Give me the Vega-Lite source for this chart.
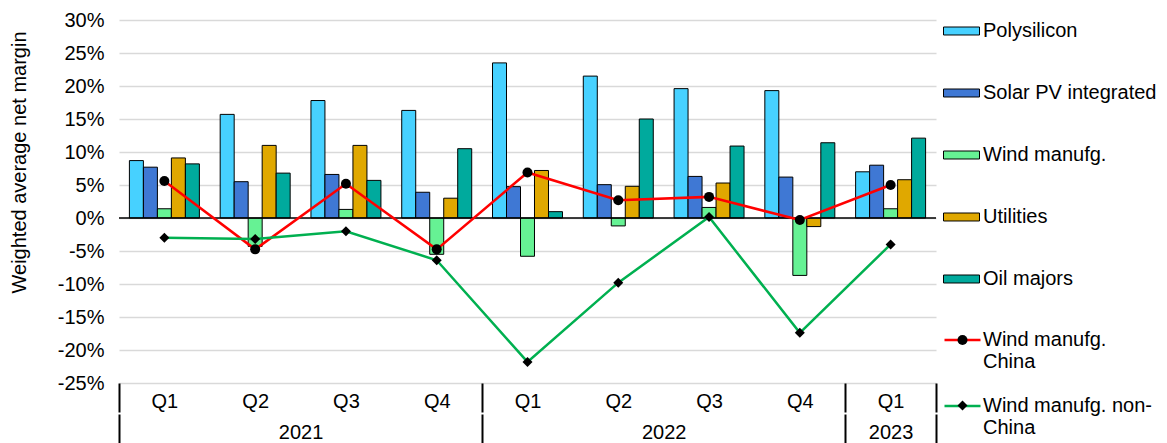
{
  "$schema": "https://vega.github.io/schema/vega-lite/v6.json",
  "width": 817,
  "height": 363,
  "autosize": {"type": "none"},
  "padding": {"left": 119, "top": 20, "right": 231, "bottom": 60},
  "background": "white",
  "config": {
    "view": {"stroke": null},
    "font": "Liberation Sans",
    "axis": {"labelColor": "black", "titleColor": "black", "labelFontSize": 20, "titleFontSize": 20, "titleFontWeight": "normal"},
    "legend": {"labelColor": "black", "labelFontSize": 20, "labelLimit": 300, "padding": 0, "title": null}
  },
  "datasets": {
    "bars": [
      {"period": "2021 Q1", "series": "Polysilicon", "value": 8.7},
      {"period": "2021 Q1", "series": "Solar PV integrated", "value": 7.7},
      {"period": "2021 Q1", "series": "Wind manufg.", "value": 1.4},
      {"period": "2021 Q1", "series": "Utilities", "value": 9.1},
      {"period": "2021 Q1", "series": "Oil majors", "value": 8.2},
      {"period": "2021 Q2", "series": "Polysilicon", "value": 15.7},
      {"period": "2021 Q2", "series": "Solar PV integrated", "value": 5.5},
      {"period": "2021 Q2", "series": "Wind manufg.", "value": -4.3},
      {"period": "2021 Q2", "series": "Utilities", "value": 11.0},
      {"period": "2021 Q2", "series": "Oil majors", "value": 6.8},
      {"period": "2021 Q3", "series": "Polysilicon", "value": 17.8},
      {"period": "2021 Q3", "series": "Solar PV integrated", "value": 6.6},
      {"period": "2021 Q3", "series": "Wind manufg.", "value": 1.3},
      {"period": "2021 Q3", "series": "Utilities", "value": 11.0},
      {"period": "2021 Q3", "series": "Oil majors", "value": 5.7},
      {"period": "2021 Q4", "series": "Polysilicon", "value": 16.3},
      {"period": "2021 Q4", "series": "Solar PV integrated", "value": 3.9},
      {"period": "2021 Q4", "series": "Wind manufg.", "value": -5.5},
      {"period": "2021 Q4", "series": "Utilities", "value": 3.0},
      {"period": "2021 Q4", "series": "Oil majors", "value": 10.5},
      {"period": "2022 Q1", "series": "Polysilicon", "value": 23.5},
      {"period": "2022 Q1", "series": "Solar PV integrated", "value": 4.75},
      {"period": "2022 Q1", "series": "Wind manufg.", "value": -5.8},
      {"period": "2022 Q1", "series": "Utilities", "value": 7.2},
      {"period": "2022 Q1", "series": "Oil majors", "value": 0.96},
      {"period": "2022 Q2", "series": "Polysilicon", "value": 21.5},
      {"period": "2022 Q2", "series": "Solar PV integrated", "value": 5.05},
      {"period": "2022 Q2", "series": "Wind manufg.", "value": -1.2},
      {"period": "2022 Q2", "series": "Utilities", "value": 4.8},
      {"period": "2022 Q2", "series": "Oil majors", "value": 15.0},
      {"period": "2022 Q3", "series": "Polysilicon", "value": 19.6},
      {"period": "2022 Q3", "series": "Solar PV integrated", "value": 6.3},
      {"period": "2022 Q3", "series": "Wind manufg.", "value": 1.6},
      {"period": "2022 Q3", "series": "Utilities", "value": 5.3},
      {"period": "2022 Q3", "series": "Oil majors", "value": 10.9},
      {"period": "2022 Q4", "series": "Polysilicon", "value": 19.3},
      {"period": "2022 Q4", "series": "Solar PV integrated", "value": 6.2},
      {"period": "2022 Q4", "series": "Wind manufg.", "value": -8.7},
      {"period": "2022 Q4", "series": "Utilities", "value": -1.3},
      {"period": "2022 Q4", "series": "Oil majors", "value": 11.4},
      {"period": "2023 Q1", "series": "Polysilicon", "value": 7.0},
      {"period": "2023 Q1", "series": "Solar PV integrated", "value": 8.0},
      {"period": "2023 Q1", "series": "Wind manufg.", "value": 1.4},
      {"period": "2023 Q1", "series": "Utilities", "value": 5.8},
      {"period": "2023 Q1", "series": "Oil majors", "value": 12.1}
    ],
    "lines": [
      {"period": "2021 Q1", "series": "Wind manufg. China", "value": 5.6},
      {"period": "2021 Q2", "series": "Wind manufg. China", "value": -4.75},
      {"period": "2021 Q3", "series": "Wind manufg. China", "value": 5.2},
      {"period": "2021 Q4", "series": "Wind manufg. China", "value": -4.75},
      {"period": "2022 Q1", "series": "Wind manufg. China", "value": 6.9},
      {"period": "2022 Q2", "series": "Wind manufg. China", "value": 2.7},
      {"period": "2022 Q3", "series": "Wind manufg. China", "value": 3.2},
      {"period": "2022 Q4", "series": "Wind manufg. China", "value": -0.3},
      {"period": "2023 Q1", "series": "Wind manufg. China", "value": 5.0},
      {"period": "2021 Q1", "series": "Wind manufg. non-China", "value": -3.0},
      {"period": "2021 Q2", "series": "Wind manufg. non-China", "value": -3.2},
      {"period": "2021 Q3", "series": "Wind manufg. non-China", "value": -2.0},
      {"period": "2021 Q4", "series": "Wind manufg. non-China", "value": -6.4},
      {"period": "2022 Q1", "series": "Wind manufg. non-China", "value": -21.8},
      {"period": "2022 Q2", "series": "Wind manufg. non-China", "value": -9.8},
      {"period": "2022 Q3", "series": "Wind manufg. non-China", "value": 0.15},
      {"period": "2022 Q4", "series": "Wind manufg. non-China", "value": -17.4},
      {"period": "2023 Q1", "series": "Wind manufg. non-China", "value": -4.0}
    ]
  },
  "encoding": {
    "y": {
      "field": "value", "type": "quantitative",
      "scale": {"domain": [-25, 30], "nice": false, "zero": false},
      "axis": {
        "values": [-25, -20, -15, -10, -5, 0, 5, 10, 15, 20, 25, 30],
        "labelExpr": "datum.value + '%'",
        "grid": true, "gridColor": "#d9d9d9", "gridWidth": 1.5,
        "ticks": false, "domain": false, "labelPadding": 15,
        "title": "Weighted average net margin",
        "titleX": -100, "titleY": 142, "titleBaseline": "middle", "titleAlign": "center", "titleAngle": -90
      }
    }
  },
  "layer": [
    {
      "data": {"name": "bars"},
      "mark": {"type": "bar", "stroke": "black", "strokeWidth": 1},
      "encoding": {
        "x": {
          "field": "period", "type": "nominal",
          "scale": {"type": "band", "domain": ["2021 Q1", "2021 Q2", "2021 Q3", "2021 Q4", "2022 Q1", "2022 Q2", "2022 Q3", "2022 Q4", "2023 Q1"], "paddingInner": 0, "paddingOuter": 0},
          "axis": {
            "orient": "bottom", "title": null, "domain": false, "grid": false,
            "tickBand": "extent", "tickSize": 29, "tickWidth": 2, "tickColor": "black",
            "tickOpacity": {"condition": {"test": "datum.extra || datum.value == '2021 Q4' || datum.value == '2022 Q4' || datum.value == '2023 Q1'", "value": 1}, "value": 0},
            "labelExpr": "datum.value ? slice(datum.value, 5) : ''",
            "labelAngle": 0, "labelPadding": -20.7, "labelOverlap": false
          }
        },
        "xOffset": {
          "field": "series", "type": "nominal",
          "scale": {"domain": ["Polysilicon", "Solar PV integrated", "Wind manufg.", "Utilities", "Oil majors"], "paddingInner": 0, "paddingOuter": 0.743}
        },
        "fill": {
          "field": "series", "type": "nominal",
          "scale": {"domain": ["Polysilicon", "Solar PV integrated", "Wind manufg.", "Utilities", "Oil majors"], "range": ["#47d1ff", "#3f78d4", "#66f294", "#e0a800", "#00aa9d"]},
          "legend": {
            "orient": "none", "legendX": 824, "legendY": -7.5, "direction": "vertical",
            "symbolType": "M-1,-0.222H1V0.222H-1Z", "symbolSize": 1296,
            "symbolStrokeColor": "black", "symbolStrokeWidth": 1, "symbolOpacity": 1,
            "labelOffset": 3, "rowPadding": 33
          }
        }
      }
    },
    {
      "data": {"values": [{"value": 0}]},
      "mark": {"type": "rule", "color": "black", "strokeWidth": 1.5},
      "encoding": {}
    },
    {
      "data": {"name": "lines"},
      "mark": {"type": "line", "strokeWidth": 2.5},
      "encoding": {
        "x": {
          "field": "period", "type": "nominal",
          "scale": {"type": "band", "domain": ["2021 Q1", "2021 Q2", "2021 Q3", "2021 Q4", "2022 Q1", "2022 Q2", "2022 Q3", "2022 Q4", "2023 Q1"], "paddingInner": 0, "paddingOuter": 0},
          "axis": {
            "orient": "bottom", "offset": 31, "title": null, "domain": false, "grid": false,
            "tickBand": "extent", "tickSize": 29, "tickWidth": 2, "tickColor": "black",
            "tickOpacity": {"condition": {"test": "datum.extra || datum.value == '2021 Q4' || datum.value == '2022 Q4' || datum.value == '2023 Q1'", "value": 1}, "value": 0},
            "labelExpr": "datum.value == '2021 Q2' ? '2021' : datum.value == '2022 Q2' ? '2022' : datum.value == '2023 Q1' ? '2023' : ''",
            "labelOffset": {"condition": {"test": "datum.value == '2023 Q1'", "value": 0}, "value": 45.4},
            "labelAngle": 0, "labelPadding": -20.7, "labelOverlap": false
          }
        },
        "stroke": {
          "field": "series", "type": "nominal",
          "scale": {"domain": ["Wind manufg. China", "Wind manufg. non-China"], "range": ["#ff0000", "#00b050"]},
          "legend": {
            "orient": "none", "legendX": 824, "legendY": 300.5, "direction": "vertical",
            "symbolType": "stroke", "symbolSize": 1296, "symbolStrokeWidth": 2.5,
            "labelOffset": 1, "rowPadding": 14,
            "labelExpr": "datum.label == 'Wind manufg. China' ? ['Wind manufg.', 'China'] : ['Wind manufg. non-', 'China']"
          }
        }
      }
    },
    {
      "data": {"name": "lines"},
      "transform": [{"filter": "datum.value != null"}],
      "mark": {"type": "point", "filled": true, "color": "black", "opacity": 1, "size": 100},
      "encoding": {
        "x": {
          "field": "period", "type": "nominal",
          "scale": {"type": "band", "domain": ["2021 Q1", "2021 Q2", "2021 Q3", "2021 Q4", "2022 Q1", "2022 Q2", "2022 Q3", "2022 Q4", "2023 Q1"], "paddingInner": 0, "paddingOuter": 0},
          "axis": null
        },
        "shape": {
          "field": "series", "type": "nominal",
          "scale": {"range": ["circle", "diamond"]},
          "legend": {
            "orient": "none", "legendX": 833.5, "legendY": 310, "direction": "vertical",
            "symbolSize": 100, "symbolStrokeWidth": 0, "symbolFillColor": "black", "symbolOpacity": 1,
            "labelOffset": 1, "rowPadding": 23.5, "labelOpacity": 0,
            "labelExpr": "[' ', ' ']"
          }
        }
      }
    }
  ],
  "resolve": {"axis": {"x": "independent"}}
}
